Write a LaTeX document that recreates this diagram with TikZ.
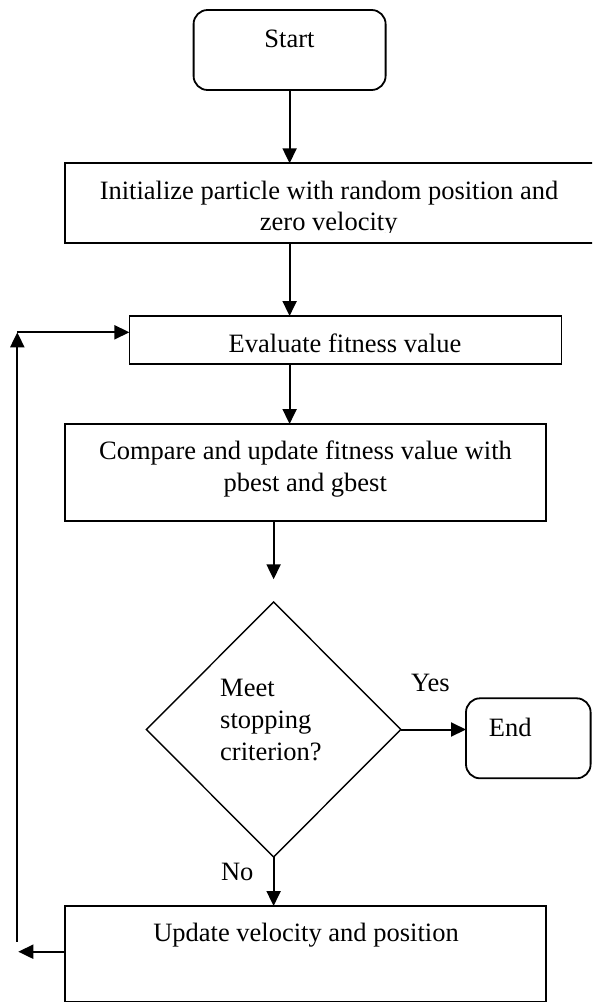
\documentclass[tikz,border=0pt]{standalone}
\usepackage{fontspec}
\setmainfont{Liberation Serif}
\usetikzlibrary{arrows.meta,shapes.geometric}
\begin{document}
\begin{tikzpicture}[x=1pt,y=-1pt,
 box/.style={draw, line width=1.8pt, inner sep=0pt, outer sep=0pt},
 rbox/.style={box, rounded corners=14pt},
 dbox/.style={draw, diamond, line width=1.4pt, inner sep=0pt, outer sep=0pt},
 lbl/.style={font=\fontsize{26.5}{32}\selectfont, inner sep=0pt, anchor=base},
 lbll/.style={lbl, anchor=base west},
 arr/.style={line width=2pt, -{Triangle[length=15pt,width=14pt]}},
 ln/.style={line width=2pt}]
\useasboundingbox (0,0) rectangle (592,1003);
\clip (0,0) rectangle (592,1003);
% boxes
\node[rbox, minimum width=192pt, minimum height=80pt] (start) at (289.6,50) {};
\node[box, minimum width=534.7pt, minimum height=79.4pt] (init) at (332.65,203) {};
\node[box, minimum width=432.1pt, minimum height=47.7pt] (eval) at (345.45,339.85) {};
\node[box, minimum width=480.7pt, minimum height=96.7pt] (cmp) at (305.65,472.35) {};
\node[dbox, minimum width=254.4pt, minimum height=255pt] (dia) at (273.6,729.5) {};
\node[rbox, minimum width=124.6pt, minimum height=80pt] (end) at (528.3,738.3) {};
\node[box, minimum width=480.7pt, minimum height=95.5pt] (upd) at (305.65,953.75) {};
% texts
\node[lbl] (tstart) at (289.5,48) {Start};
\node[lbl] (tinit1) at (329,199) {Initialize particle with random position and};
\begin{scope}
\clip (66,200) rectangle (590,232);
\node[lbl] (tinit2) at (328.7,230.5) {zero velocity};
\end{scope}
\node[lbl] (teval) at (345,352.7) {Evaluate fitness value};
\node[lbl] (tcmp1) at (305.5,459) {Compare and update fitness value with};
\node[lbl] (tcmp2) at (305.2,491.7) {pbest and gbest};
\node[lbll] (tdia1) at (220,696.7) {Meet};
\node[lbll] (tdia2) at (220,728) {stopping};
\node[lbll] (tdia3) at (220,760) {criterion?};
\node[lbll] (tyes) at (411,691) {Yes};
\node[lbll] (tend) at (488.7,736.7) {End};
\node[lbll] (tno) at (220.8,880) {No};
\node[lbl] (tupd) at (306,941.7) {Update velocity and position};
% free ends
\coordinate (c1) at (273.6,579.3);
\coordinate (lb) at (17.3,941.7);
\coordinate (lt) at (17.3,332.3);
\coordinate (la) at (18.3,951.7);
% connectors
\draw[arr] (start.south) -- (start.south |- init.north);
\draw[arr] (start.south |- init.south) -- (start.south |- eval.north);
\draw[arr] (start.south |- eval.south) -- (start.south |- cmp.north);
\draw[arr] (c1 |- cmp.south) -- (c1);
\draw[arr] (dia.east) -- (dia.east -| end.west);
\draw[arr] (dia.south) -- (dia.south |- upd.north);
\draw[arr] (la -| upd.west) -- (la);
\draw[arr] (lb) -- (lt);
\draw[arr] (lt) -- (lt -| eval.west);
\end{tikzpicture}
\end{document}
